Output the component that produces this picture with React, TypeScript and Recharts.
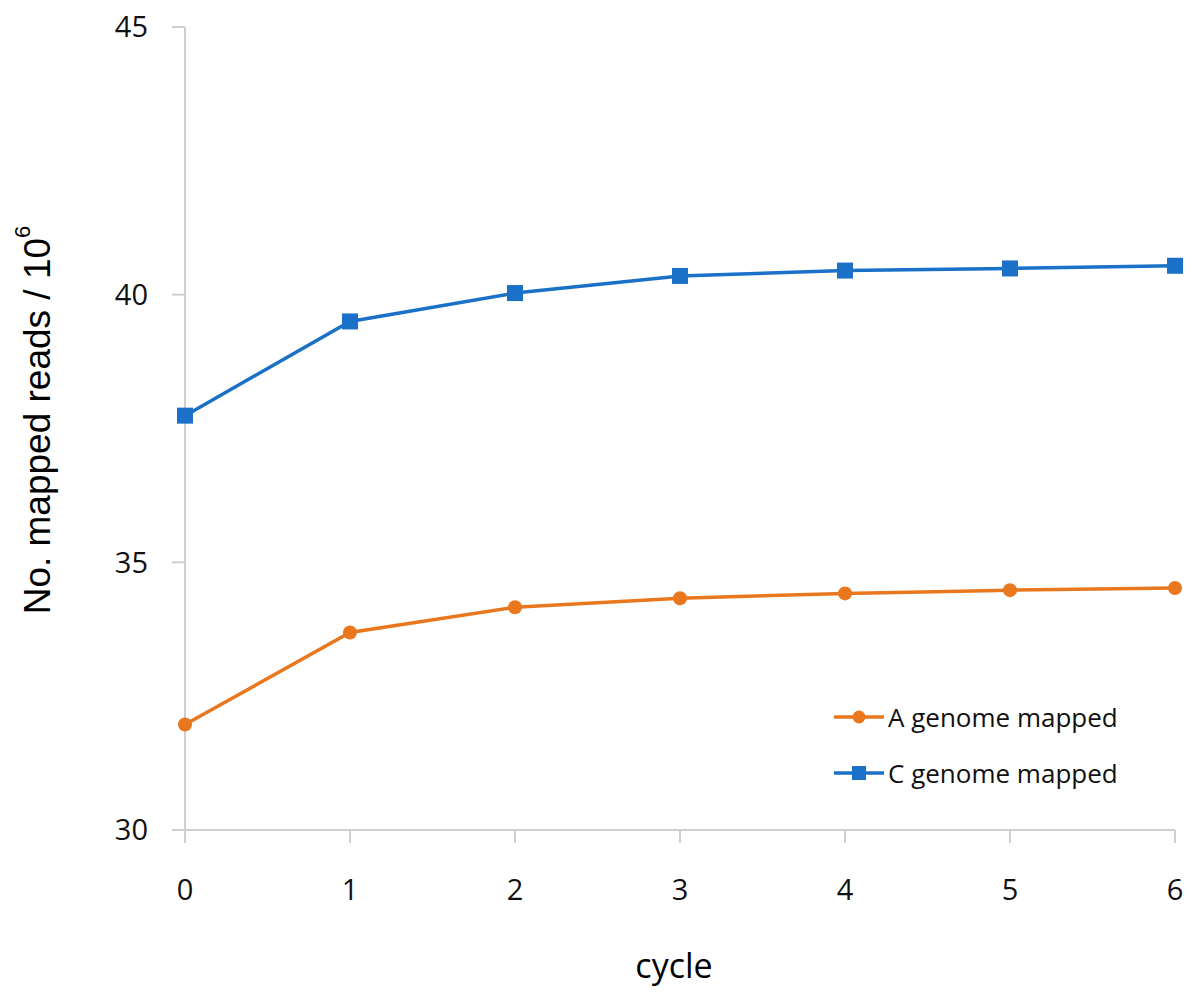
import React from 'react';
import { LineChart, Line, XAxis, YAxis, Legend } from 'recharts';

const cycles = [0, 1, 2, 3, 4, 5, 6];
const aGenome = [31.97, 33.69, 34.16, 34.33, 34.42, 34.48, 34.52];
const cGenome = [37.74, 39.5, 40.03, 40.35, 40.45, 40.49, 40.54];
const yTicks = [30, 35, 40, 45];
const seriesNames = ['A genome mapped', 'C genome mapped'];

const data = cycles.map((c, i) => ({ cycle: c, a: aGenome[i], c: cGenome[i] }));

const ORANGE = '#E9771E';
const BLUE = '#1B70C8';
const AXIS = '#cfcfcf';
const TICK_FONT = '"Open Sans", "Noto Sans", sans-serif';
const LABEL_FONT = '"Liberation Sans", Arial, sans-serif';

const Square = (props: any) => {
  const { cx, cy } = props;
  if (cx == null || cy == null) return null;
  return <rect x={cx - 8} y={cy - 8} width={16} height={16} fill={BLUE} />;
};

const Dot = (props: any) => {
  const { cx, cy } = props;
  if (cx == null || cy == null) return null;
  return <circle cx={cx} cy={cy} r={7} fill={ORANGE} />;
};

const LegendContent = () => (
  <div style={{ fontFamily: TICK_FONT, fontSize: 26, color: '#111' }}>
    {[
      { name: seriesNames[0], color: ORANGE, shape: 'circle' },
      { name: seriesNames[1], color: BLUE, shape: 'square' },
    ].map((item) => (
      <div key={item.name} style={{ display: 'flex', alignItems: 'center', height: 56 }}>
        <svg width={52} height={20} style={{ marginRight: 2 }}>
          <line x1={0} y1={10} x2={50} y2={10} stroke={item.color} strokeWidth={3.5} />
          {item.shape === 'circle' ? (
            <circle cx={25} cy={10} r={6.5} fill={item.color} />
          ) : (
            <rect x={18} y={3} width={14} height={14} fill={item.color} />
          )}
        </svg>
        <span>{item.name}</span>
      </div>
    ))}
  </div>
);

const YLabel = () => (
  <text
    x={37}
    y={420}
    transform="rotate(-90 37 420)"
    textAnchor="middle"
    dominantBaseline="central"
    fontFamily={LABEL_FONT}
    fontSize={37}
    fill="#000"
  >
    No. mapped reads / 10
    <tspan fontSize={22} dy={-15}>6</tspan>
  </text>
);

const XLabel = () => (
  <text
    x={674}
    y={965}
    textAnchor="middle"
    dominantBaseline="central"
    fontFamily={TICK_FONT}
    fontSize={34}
    fill="#000"
  >
    cycle
  </text>
);

export default function App() {
  return (
    <div style={{ position: 'absolute', left: 0, top: 0, background: '#fff' }}>
      <LineChart
        width={1200}
        height={1002}
        data={data}
        margin={{ top: 27, right: 25, bottom: 112, left: 125 }}
      >
        <XAxis
          dataKey="cycle"
          type="number"
          domain={[0, 6]}
          ticks={cycles}
          stroke={AXIS}
          strokeWidth={2}
          tickSize={13}
          tickMargin={36}
          height={60}
          tick={{ fill: '#111', fontSize: 29, fontFamily: TICK_FONT }}
          label={<XLabel />}
        />
        <YAxis
          type="number"
          domain={[30, 45]}
          ticks={yTicks}
          stroke={AXIS}
          strokeWidth={2}
          tickSize={13}
          tickMargin={24}
          width={60}
          tick={{ fill: '#111', fontSize: 29, fontFamily: TICK_FONT }}
          label={<YLabel />}
        />
        <Legend
          content={<LegendContent />}
          layout="vertical"
          align="center"
          verticalAlign="middle"
          wrapperStyle={{ position: 'absolute', left: 834, top: 689, width: 350 }}
        />
        <Line
          type="linear"
          dataKey="a"
          name={seriesNames[0]}
          stroke={ORANGE}
          strokeWidth={3.5}
          dot={<Dot />}
          isAnimationActive={false}
        />
        <Line
          type="linear"
          dataKey="c"
          name={seriesNames[1]}
          stroke={BLUE}
          strokeWidth={3.5}
          dot={<Square />}
          isAnimationActive={false}
        />
      </LineChart>
    </div>
  );
}
